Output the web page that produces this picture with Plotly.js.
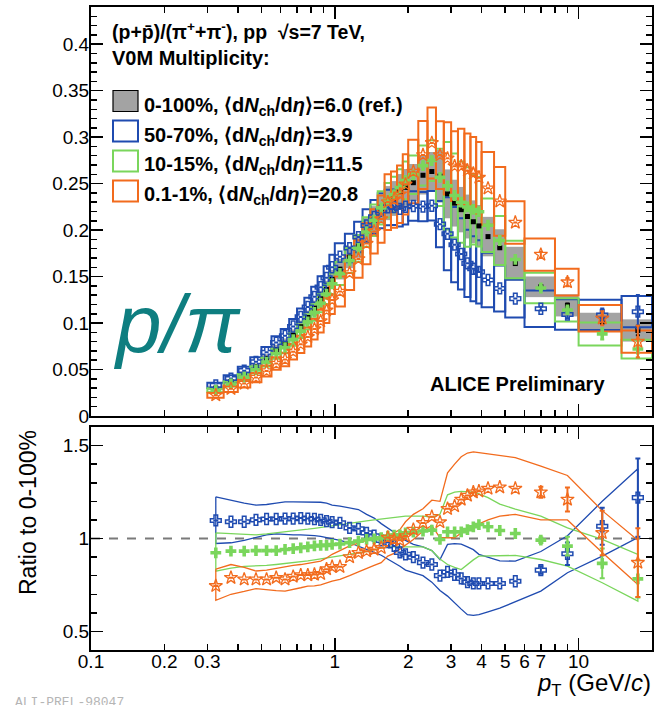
<!DOCTYPE html>
<html><head><meta charset="utf-8">
<script src="https://cdn.plot.ly/plotly-3.0.1.min.js"></script>
<style>html,body{margin:0;padding:0;background:#fff}#chart{width:658px;height:705px}</style>
</head><body><div id="chart"></div>
<script>
// ---------------- DATA ----------------
const binEdges = [0.30,0.35,0.40,0.45,0.50,0.55,0.60,0.65,0.70,0.75,0.80,0.85,0.90,0.95,1.00,1.10,1.20,1.30,1.40,1.50,1.60,1.70,1.80,1.90,2.00,2.20,2.40,2.60,2.80,3.00,3.20,3.40,3.60,3.80,4.00,4.50,5.00,6.00,8.00,10.0,15.0,20.0];

// p/pi, 0-100% (reference)
const ref = [0.030,0.037,0.0448,0.053,0.062,0.0715,0.078,0.087,0.096,0.106,0.116,0.126,0.136,0.147,0.158,0.171,0.183,0.199,0.211,0.223,0.229,0.234,0.241,0.246,0.251,0.259,0.263,0.258,0.239,0.229,0.222,0.2146,0.209,0.2045,0.193,0.181,0.164,0.139,0.119,0.102,0.092];
const refSysRel = [0.07,0.07,0.07,0.07,0.07,0.07,0.07,0.07,0.07,0.07,0.07,0.07,0.07,0.07,0.07,0.07,0.07,0.07,0.07,0.07,0.08,0.08,0.08,0.08,0.08,0.08,0.08,0.11,0.11,0.11,0.11,0.11,0.11,0.11,0.11,0.11,0.11,0.08,0.10,0.09,0.13];
const refStat = [0,0,0,0,0,0,0,0,0,0,0,0,0,0,0,0,0,0,0,0,0,0,0,0,0,0,0,0,0,0,0,0,0,0,0,0,0,0.001,0.002,0.003,0.005];

// p/pi, 50-70%
const m50 = [0.0329,0.0403,0.0488,0.0583,0.0685,0.079,0.0863,0.0963,0.1066,0.1173,0.1282,0.1386,0.1486,0.16,0.1713,0.1807,0.1925,0.205,0.2142,0.2208,0.2244,0.2246,0.2229,0.2251,0.2259,0.2253,0.2262,0.2064,0.196,0.1843,0.1743,0.1642,0.1584,0.155,0.1463,0.1372,0.1263,0.1154,0.1092,0.1087,0.1122];
const m50SysRel = [0.085,0.085,0.085,0.085,0.085,0.085,0.085,0.085,0.085,0.085,0.085,0.085,0.085,0.085,0.085,0.085,0.085,0.085,0.085,0.085,0.085,0.085,0.085,0.085,0.07,0.07,0.07,0.12,0.20,0.22,0.22,0.22,0.22,0.22,0.20,0.18,0.16,0.17,0.15,0.15,0.15];
const m50Stat = [0,0,0,0,0,0,0,0,0,0,0,0,0,0,0,0,0,0,0,0,0,0,0,0,0,0,0,0,0,0,0,0,0,0,0,0,0,0.002,0.004,0.007,0.018];

// p/pi, 10-15%
const m10 = [0.0277,0.0345,0.0418,0.0496,0.058,0.0669,0.0734,0.0822,0.0912,0.1012,0.1114,0.1213,0.131,0.1423,0.1533,0.1672,0.1804,0.198,0.2106,0.2239,0.232,0.2382,0.2458,0.2534,0.2595,0.2694,0.2748,0.2567,0.2476,0.2372,0.23,0.2249,0.2222,0.2198,0.2052,0.1888,0.1684,0.1377,0.1141,0.0883,0.072];
const m10SysRel = [0.08,0.08,0.08,0.08,0.08,0.08,0.08,0.08,0.08,0.08,0.08,0.08,0.08,0.08,0.08,0.08,0.08,0.08,0.08,0.08,0.08,0.08,0.08,0.08,0.08,0.08,0.08,0.12,0.19,0.19,0.19,0.19,0.17,0.17,0.14,0.14,0.12,0.12,0.11,0.14,0.14];
const m10Stat = [0,0,0,0,0,0,0,0,0,0,0,0,0,0,0,0,0,0,0,0,0,0,0,0,0,0,0,0,0,0,0,0,0,0,0,0,0,0.002,0.003,0.006,0.009];

// p/pi, 0.1-1%
const m01 = [0.0224,0.0292,0.0349,0.0413,0.0484,0.0564,0.0608,0.0692,0.0771,0.0851,0.0935,0.1021,0.1136,0.1247,0.134,0.1539,0.1689,0.1855,0.1986,0.2119,0.2301,0.2328,0.2386,0.2492,0.263,0.2808,0.2938,0.2807,0.2772,0.2688,0.2686,0.2642,0.261,0.2564,0.2449,0.231,0.2081,0.1736,0.144,0.1051,0.080];
const m01SysRel = [0.12,0.12,0.12,0.12,0.12,0.12,0.12,0.12,0.12,0.12,0.12,0.12,0.12,0.12,0.12,0.12,0.12,0.12,0.12,0.12,0.13,0.13,0.13,0.13,0.13,0.13,0.13,0.13,0.14,0.14,0.15,0.15,0.15,0.15,0.16,0.16,0.11,0.10,0.10,0.135,0.15];
const m01Stat = [0,0,0,0,0,0,0,0,0,0,0,0,0,0,0,0,0,0,0,0,0,0,0,0,0,0,0,0,0,0,0,0,0,0,0,0,0,0.003,0.0045,0.0075,0.017];

// Ratios to 0-100%
const r50 = [1.097,1.09,1.09,1.10,1.105,1.105,1.107,1.107,1.11,1.107,1.105,1.10,1.093,1.088,1.084,1.057,1.052,1.03,1.015,0.99,0.98,0.96,0.925,0.915,0.90,0.87,0.86,0.80,0.82,0.805,0.785,0.765,0.758,0.758,0.758,0.758,0.77,0.83,0.918,1.066,1.22];
const r50Up = [1.224,1.204,1.19,1.18,1.183,1.19,1.197,1.197,1.197,1.197,1.195,1.195,1.19,1.18,1.174,1.165,1.156,1.13,1.11,1.08,1.057,1.035,1.012,0.99,0.968,0.955,0.935,0.887,0.968,0.972,0.97,0.955,0.94,0.915,0.90,0.88,0.878,0.93,1.015,1.20,1.375];
const r50Lo = [0.973,0.977,0.99,1.004,1.02,1.025,1.022,1.02,1.02,1.018,1.015,1.012,1.008,1.0,0.99,0.977,0.96,0.94,0.925,0.91,0.89,0.87,0.851,0.83,0.815,0.80,0.765,0.72,0.69,0.655,0.62,0.59,0.586,0.59,0.605,0.625,0.66,0.717,0.816,0.905,1.005];
const r50Stat = [0,0,0,0,0,0,0,0,0,0,0,0,0,0,0,0,0,0,0,0,0,0,0,0,0,0,0,0,0,0,0,0,0,0,0,0,0,0.02,0.06,0.10,0.21];

const r10 = [0.923,0.932,0.932,0.935,0.935,0.935,0.941,0.945,0.95,0.955,0.96,0.963,0.963,0.968,0.97,0.978,0.986,0.995,0.998,1.004,1.013,1.018,1.02,1.03,1.034,1.04,1.045,0.995,1.036,1.036,1.036,1.048,1.063,1.075,1.063,1.043,1.027,0.991,0.959,0.866,0.783];
const r10Up = [1.03,1.025,1.02,1.02,1.025,1.03,1.035,1.04,1.045,1.05,1.055,1.06,1.065,1.07,1.075,1.085,1.09,1.095,1.10,1.105,1.11,1.115,1.12,1.12,1.12,1.12,1.115,1.13,1.235,1.25,1.254,1.254,1.25,1.24,1.22,1.185,1.158,1.12,1.057,0.995,0.914];
const r10Lo = [0.824,0.84,0.85,0.851,0.855,0.86,0.866,0.87,0.875,0.88,0.885,0.89,0.895,0.90,0.905,0.915,0.923,0.93,0.94,0.95,0.955,0.955,0.955,0.955,0.955,0.955,0.935,0.89,0.86,0.845,0.833,0.86,0.885,0.905,0.905,0.908,0.909,0.887,0.851,0.762,0.663];
const r10Stat = [0,0,0,0,0,0,0,0,0,0,0,0,0,0,0,0,0,0,0,0,0,0,0,0,0,0,0,0,0,0,0,0,0,0,0,0,0,0.015,0.05,0.08,0.10];

const r01 = [0.745,0.789,0.78,0.78,0.78,0.789,0.78,0.795,0.803,0.803,0.806,0.81,0.835,0.848,0.848,0.90,0.923,0.932,0.941,0.95,1.005,0.995,0.99,1.013,1.048,1.084,1.117,1.088,1.16,1.174,1.21,1.231,1.249,1.254,1.269,1.276,1.269,1.249,1.21,1.03,0.87];
const r01Up = [0.835,0.86,0.845,0.825,0.83,0.84,0.85,0.855,0.86,0.865,0.87,0.878,0.895,0.915,0.935,0.96,0.975,0.99,1.004,1.01,1.015,1.03,1.048,1.09,1.13,1.16,1.206,1.20,1.353,1.40,1.44,1.46,1.466,1.462,1.455,1.445,1.435,1.39,1.339,1.15,0.99];
const r01Lo = [0.667,0.70,0.715,0.73,0.725,0.72,0.717,0.725,0.735,0.744,0.745,0.75,0.76,0.77,0.78,0.80,0.82,0.84,0.855,0.87,0.905,0.92,0.94,0.965,0.995,1.04,1.07,1.004,1.004,1.004,1.03,1.05,1.065,1.08,1.10,1.12,1.13,1.10,1.10,0.925,0.753];
const r01Stat = [0,0,0,0,0,0,0,0,0,0,0,0,0,0,0,0,0,0,0,0,0,0,0,0,0,0,0,0,0,0,0,0,0,0,0,0,0,0.03,0.065,0.12,0.185];

const xTickVals = [0.1,0.2,0.3,1,2,3,4,5,6,7,10,20];
const xTickText = ['0.1','0.2','0.3','1','2','3','4','5','6','7','10','20'];
const xMinorVals = [0.4,0.5,0.6,0.7,0.8,0.9,8,9];
const xMajorVals = [0.1,1,10];

const legendLabels = [
  '<b>0-100%, ⟨d<i>N</i><sub>ch</sub>/d<i>η</i>⟩=6.0 (ref.)</b>',
  '<b>50-70%, ⟨d<i>N</i><sub>ch</sub>/d<i>η</i>⟩=3.9</b>',
  '<b>10-15%, ⟨d<i>N</i><sub>ch</sub>/d<i>η</i>⟩=11.5</b>',
  '<b>0.1-1%, ⟨d<i>N</i><sub>ch</sub>/d<i>η</i>⟩=20.8</b>'
];

// ---------------- STYLE ----------------
const BLUE = '#1f4bb0', GREEN = '#7ad65c', ORANGE = '#f26b1d', GRAY = '#a3a3a3', TEAL = '#0e7e80';
const FONT = 'Liberation Sans, Arial, Helvetica, sans-serif';

const centers = binEdges.slice(0, -1).map((lo, i) => (lo + binEdges[i + 1]) / 2);

// pixel helpers for decorations (paper coords)
const ML = 91, MR = 6, MT = 7, MB = 55, W = 658, H = 705;
const PW = W - ML - MR, PH = H - MT - MB;
const px = v => (v - ML) / PW;
const py = v => (H - MB - v) / PH;

function sysBoxes(vals, rel, style) {
  return vals.map((v, i) => Object.assign({
    type: 'rect', xref: 'x', yref: 'y', layer: 'below',
    x0: binEdges[i], x1: binEdges[i + 1], y0: v * (1 - rel[i]), y1: v * (1 + rel[i])
  }, style));
}

const shapes = [].concat(
  sysBoxes(ref, refSysRel, {fillcolor: GRAY, line: {width: 0}}),
  sysBoxes(m50, m50SysRel, {fillcolor: 'rgba(0,0,0,0)', line: {color: BLUE, width: 2}}),
  sysBoxes(m10, m10SysRel, {fillcolor: 'rgba(0,0,0,0)', line: {color: GREEN, width: 2}}),
  sysBoxes(m01, m01SysRel, {fillcolor: 'rgba(0,0,0,0)', line: {color: ORANGE, width: 2}})
);
// ratio = 1 dashed line
shapes.push({type: 'line', xref: 'x2 domain', yref: 'y2', x0: 0, x1: 1, y0: 1, y1: 1, layer: 'below',
  line: {color: '#7a7a7a', width: 2, dash: 'dash'}});
// legend boxes
const legRows = [101, 131, 161, 191];
const legStyles = [
  {fillcolor: GRAY, line: {color: '#000', width: 1.2}},
  {fillcolor: '#fff', line: {color: BLUE, width: 2}},
  {fillcolor: '#fff', line: {color: GREEN, width: 2}},
  {fillcolor: '#fff', line: {color: ORANGE, width: 2}}
];
legRows.forEach((r, i) => shapes.push(Object.assign({type: 'rect', xref: 'paper', yref: 'paper',
  x0: px(113), x1: px(138), y0: py(r + 10.5), y1: py(r - 10.5)}, legStyles[i])));

function errs(a, w) { return {type: 'data', array: a, visible: true, thickness: 2, width: w}; }

const mRef = {symbol: 'square', size: 5, color: '#000'};
const mBlue = {symbol: 'cross-open', size: 9, color: BLUE, line: {color: BLUE, width: 1.5}};
const mGreen = {symbol: 'cross', size: 9, color: GREEN, line: {width: 0}};
const mOrange = {symbol: 'star-open', size: 10, color: ORANGE, line: {color: ORANGE, width: 1.3}};

function band(up, lo, color) {
  const xs = centers.concat(centers.slice().reverse(), [centers[0]]);
  const ys = up.concat(lo.slice().reverse(), [up[0]]);
  return {x: xs, y: ys, xaxis: 'x2', yaxis: 'y2', mode: 'lines', line: {color: color, width: 1.3}, hoverinfo: 'skip'};
}

const traces = [
  // top panel
  {x: centers, y: ref, xaxis: 'x', yaxis: 'y', mode: 'markers', marker: mRef, error_y: errs(refStat, 2)},
  {x: centers, y: m50, xaxis: 'x', yaxis: 'y', mode: 'markers', marker: mBlue, error_y: Object.assign(errs(m50Stat, 2), {color: BLUE})},
  {x: centers, y: m10, xaxis: 'x', yaxis: 'y', mode: 'markers', marker: mGreen, error_y: Object.assign(errs(m10Stat, 2), {color: GREEN})},
  {x: centers, y: m01, xaxis: 'x', yaxis: 'y', mode: 'markers', marker: mOrange, error_y: Object.assign(errs(m01Stat, 2), {color: ORANGE})},
  // ratio bands
  band(r50Up, r50Lo, BLUE), band(r10Up, r10Lo, GREEN), band(r01Up, r01Lo, ORANGE),
  // ratio points
  {x: centers, y: r50, xaxis: 'x2', yaxis: 'y2', mode: 'markers', marker: mBlue, error_y: Object.assign(errs(r50Stat, 2.5), {color: BLUE})},
  {x: centers, y: r10, xaxis: 'x2', yaxis: 'y2', mode: 'markers', marker: mGreen, error_y: Object.assign(errs(r10Stat, 2.5), {color: GREEN})},
  {x: centers, y: r01, xaxis: 'x2', yaxis: 'y2', mode: 'markers', marker: mOrange, error_y: Object.assign(errs(r01Stat, 2.5), {color: ORANGE})},
  // overlay axes holders
  {x: [1], y: [null], xaxis: 'x3', yaxis: 'y', mode: 'markers', hoverinfo: 'skip'},
  {x: [1], y: [null], xaxis: 'x4', yaxis: 'y2', mode: 'markers', hoverinfo: 'skip'},
  // legend markers (decoration layer in paper-like coordinates)
  {x: [px(125.5), px(125.5), px(125.5), px(125.5)], y: legRows.map(py), xaxis: 'x5', yaxis: 'y5', mode: 'markers',
   marker: {symbol: ['square', 'cross-open', 'cross', 'star-open'], size: [6, 9, 9, 10], color: ['#000', BLUE, GREEN, ORANGE],
            line: {color: ['#000', BLUE, GREEN, ORANGE], width: [0, 1.5, 0, 1.3]}}, hoverinfo: 'skip', cliponaxis: false}
];

const axBase = {ticks: 'inside', tickcolor: '#000', tickwidth: 1.5, showline: true, linecolor: '#000', linewidth: 2,
  mirror: 'ticks', showgrid: false, zeroline: false, tickfont: {size: 19, family: FONT, color: '#000'}};
const xr = [-1, Math.log10(20)];
const xMain = Object.assign({}, axBase, {type: 'log', range: xr, tickmode: 'array', tickvals: xTickVals, ticktext: xTickText,
  ticklen: 6, ticklabelstandoff: -7,
  minor: {tickmode: 'array', tickvals: xMinorVals, ticks: 'inside', ticklen: 6, tickwidth: 1.5, tickcolor: '#000'}});
const xLong = {type: 'log', range: xr, tickmode: 'array', tickvals: xMajorVals, ticks: 'inside', ticklen: 12, tickwidth: 1.5,
  tickcolor: '#000', showticklabels: false, showline: false, mirror: 'ticks', showgrid: false, zeroline: false};

const TOP0 = (H - MB - 416) / PH, BOT1 = (H - MB - 427) / PH;

const annotations = [
  {text: '<b>(p+p\u0304)/(π<sup>+</sup>+π<sup>-</sup>), pp  √s=7 TeV,</b>', xref: 'paper', yref: 'paper', x: px(110), y: py(31),
   xanchor: 'left', yanchor: 'middle', showarrow: false, font: {size: 19.5, family: FONT, color: '#000'}},
  {text: '<b>V0M Multiplicity:</b>', xref: 'paper', yref: 'paper', x: px(110), y: py(58),
   xanchor: 'left', yanchor: 'middle', showarrow: false, font: {size: 20, family: FONT, color: '#000'}},
  {text: '<b>ALICE Preliminary</b>', xref: 'paper', yref: 'paper', x: px(607), y: py(384),
   xanchor: 'right', yanchor: 'middle', showarrow: false, font: {size: 20, family: FONT, color: '#000'}},
  {text: '<i>p/π</i>', xref: 'paper', yref: 'paper', x: px(111), y: py(323),
   xanchor: 'left', yanchor: 'middle', showarrow: false, font: {size: 82, family: FONT, color: TEAL}},
  {text: 'Ratio to 0-100%', xref: 'paper', yref: 'paper', x: px(28), y: py(513), textangle: -90,
   xanchor: 'center', yanchor: 'middle', showarrow: false, font: {size: 23, family: FONT, color: '#000'}},
  {text: '<i>p</i><sub>T</sub> (GeV/<i>c</i>)', xref: 'paper', yref: 'paper', x: px(653), y: py(684),
   xanchor: 'right', yanchor: 'middle', showarrow: false, font: {size: 24, family: FONT, color: '#000'}},
  {text: 'ALI-PREL-98047', xref: 'paper', yref: 'paper', x: px(13), y: py(702),
   xanchor: 'left', yanchor: 'middle', showarrow: false, font: {size: 13, family: 'Liberation Mono, monospace', color: '#b5b5b5'}}
];
legendLabels.forEach((t, i) => annotations.push({text: t, xref: 'paper', yref: 'paper', x: px(142), y: py(legRows[i] + 5),
  xanchor: 'left', yanchor: 'middle', showarrow: false, font: {size: 20, family: FONT, color: '#000'}}));

const layout = {
  width: W, height: H, margin: {l: ML, r: MR, t: MT, b: MB, pad: 0},
  paper_bgcolor: '#fff', plot_bgcolor: 'rgba(0,0,0,0)', showlegend: false,
  font: {family: FONT, size: 19, color: '#000'},
  xaxis: Object.assign({}, xMain, {domain: [0, 1], anchor: 'y', showticklabels: false}),
  yaxis: Object.assign({}, axBase, {domain: [TOP0, 1], anchor: 'x', range: [0, 0.44], tick0: 0, dtick: 0.05, ticklen: 12,
    ticklabelstandoff: -4,
    minor: {dtick: 0.01, tick0: 0, ticks: 'inside', ticklen: 6, tickwidth: 1.5, tickcolor: '#000'}}),
  xaxis2: Object.assign({}, xMain, {domain: [0, 1], anchor: 'y2', showticklabels: true}),
  yaxis2: Object.assign({}, axBase, {domain: [0, BOT1], anchor: 'x2', range: [0.4, 1.6], tickmode: 'array',
    tickvals: [0.5, 1, 1.5], ticktext: ['0.5', '1', '1.5'], ticklen: 12, ticklabelstandoff: -4,
    minor: {dtick: 0.1, tick0: 0, ticks: 'inside', ticklen: 6, tickwidth: 1.5, tickcolor: '#000'}}),
  xaxis3: Object.assign({}, xLong, {overlaying: 'x', anchor: 'y'}),
  xaxis4: Object.assign({}, xLong, {overlaying: 'x2', anchor: 'y2'}),
  xaxis5: {domain: [0, 1], range: [0, 1], anchor: 'y5', visible: false, fixedrange: true},
  yaxis5: {domain: [0, 1], range: [0, 1], anchor: 'x5', visible: false, fixedrange: true},
  shapes: shapes,
  annotations: annotations
};

Plotly.newPlot('chart', traces, layout, {displayModeBar: false, staticPlot: true});
</script>
</body></html>
